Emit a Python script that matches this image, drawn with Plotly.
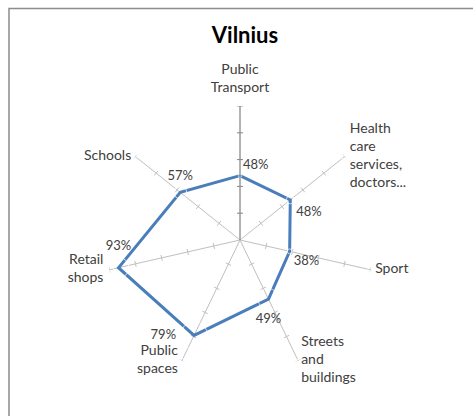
import math
import plotly.graph_objects as go

title_text = "Vilnius"
categories = [
    "Public<br>Transport",
    "Health<br>care<br>services,<br>doctors...",
    "Sport",
    "Streets<br>and<br>buildings",
    "Public<br>spaces",
    "Retail<br>shops",
    "Schools",
]
values = [48, 48, 38, 49, 79, 93, 57]
value_labels = ["48%", "48%", "38%", "49%", "79%", "93%", "57%"]
radial_ticks = [20, 40, 60, 80, 100]
radial_max = 100

n = len(categories)
angles = [i * 360.0 / n for i in range(n)]

W, H = 473, 416
cx, cy, R = 240, 240, 134

# label placement styles (positions relative to the points)
value_pos = ["top right", "bottom right", "bottom right", "bottom center",
             "middle left", "top center", "top center"]
value_gap = [3, 6, 4, 14, 18, 14, 9]
cat_pos = ["top center", "middle right", "middle right", "middle right",
           "middle left", "middle left", "middle left"]
cat_gap = [10, 5, 4.5, 3, 4, 6, 4]


def gap_to_size(g):
    return max(1.6 * (g - 1), 0.1)


fig = go.Figure()

# tick marks crossing each spoke
tick_half = 3.0 / R * radial_max
for k, a in enumerate(angles):
    tr, tt = [], []
    for r in radial_ticks:
        rr = math.hypot(r, tick_half)
        da = math.degrees(math.atan2(tick_half, r))
        tr += [rr, rr, None]
        tt += [a - da, a + da, None]
    fig.add_trace(go.Scatterpolar(
        r=tr, theta=tt, mode="lines",
        line=dict(color="#868686" if k == 0 else "#bfbfbf", width=1),
        hoverinfo="skip", showlegend=False,
    ))

# data polygon
fig.add_trace(go.Scatterpolar(
    r=values + [values[0]],
    theta=angles + [angles[0]],
    mode="lines",
    line=dict(color="#4a7ebb", width=3),
    showlegend=False,
))

# value labels
fig.add_trace(go.Scatterpolar(
    r=values, theta=angles, mode="markers+text",
    text=value_labels, textposition=value_pos,
    marker=dict(size=[gap_to_size(g) for g in value_gap], color="rgba(0,0,0,0)"),
    textfont=dict(family="Lato", size=13, color="#404040"),
    cliponaxis=False, hoverinfo="skip", showlegend=False,
))

# category labels at the spoke ends
fig.add_trace(go.Scatterpolar(
    r=[radial_max] * n, theta=angles, mode="markers+text",
    text=categories, textposition=cat_pos,
    marker=dict(size=[gap_to_size(g) for g in cat_gap], color="rgba(0,0,0,0)"),
    textfont=dict(family="Lato", size=14, color="#404040"),
    cliponaxis=False, hoverinfo="skip", showlegend=False,
))

fig.update_layout(
    width=W, height=H,
    margin=dict(l=0, r=0, t=0, b=0),
    paper_bgcolor="white",
    title=dict(text="<b>" + title_text + "</b>", x=245 / W, xanchor="center",
               y=1 - 35 / H, yanchor="middle",
               font=dict(family="Lato", size=22, color="#000000")),
    polar=dict(
        domain=dict(x=[(cx - R) / W, (cx + R) / W],
                    y=[(H - cy - R) / H, (H - cy + R) / H]),
        bgcolor="white",
        radialaxis=dict(range=[0, radial_max], showgrid=False, showticklabels=False,
                        ticks="", showline=True, linecolor="#868686",
                        linewidth=1, angle=90),
        angularaxis=dict(type="linear", thetaunit="degrees", rotation=90,
                         direction="clockwise", tickmode="array",
                         tickvals=angles, showticklabels=False,
                         showgrid=True, gridcolor="#bfbfbf", gridwidth=1,
                         showline=False, ticks=""),
    ),
    shapes=[dict(type="rect", xref="paper", yref="paper",
                 x0=9 / W, x1=1.2, y0=-0.2, y1=1 - 8.5 / H,
                 line=dict(color="#8c8c8c", width=1.5), fillcolor="rgba(0,0,0,0)")],
)

fig.write_html("out.html",
               config={"displayModeBar": False},
               post_script="document.body.style.margin='0';")
